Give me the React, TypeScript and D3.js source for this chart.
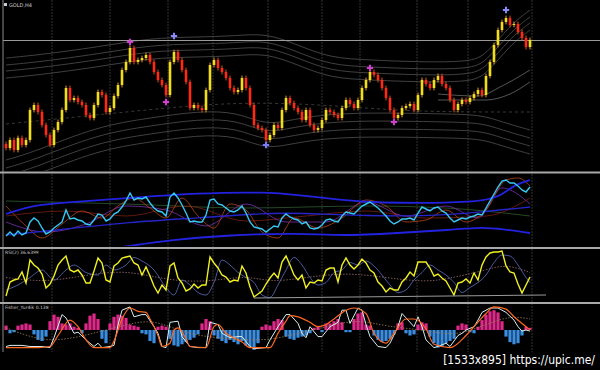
import React from 'react';
import * as d3 from 'd3';

const W = 600;
const H = 370;

// Candle closes (GOLD,H4)
const closes = [
  1202, 1206, 1201, 1207, 1203.5, 1206, 1221, 1223.5, 1220, 1213.5,
  1208.5, 1203.5, 1211, 1215, 1221, 1232, 1226, 1227, 1225, 1223.5,
  1218.5, 1217, 1223.5, 1230, 1228.5, 1220, 1222, 1228, 1233.5, 1241,
  1245, 1252, 1245, 1246, 1247, 1248.5, 1245, 1240, 1236, 1233.5,
  1228.5, 1245, 1250, 1246, 1241, 1235, 1222, 1223.5, 1222, 1221,
  1231, 1243.5, 1246, 1242, 1240, 1237, 1232, 1230, 1231, 1237,
  1232, 1223.5, 1213.5, 1212, 1211, 1206, 1208.5, 1213.5, 1212, 1221,
  1227, 1224.5, 1222, 1220, 1216, 1221, 1213.5, 1211, 1212, 1216,
  1221, 1220, 1218.5, 1217, 1222, 1226, 1224, 1222, 1226, 1232,
  1236, 1240, 1238.5, 1236, 1232, 1227, 1221, 1217, 1218.5, 1222,
  1223, 1224, 1221, 1228.5, 1236, 1234, 1232, 1236, 1238, 1234,
  1232, 1226, 1221, 1224, 1226, 1225, 1227, 1229, 1231, 1228.5,
  1238, 1245, 1253.5, 1261, 1265, 1267, 1263.5, 1264, 1260, 1257,
  1252.5, 1256,
];
const firstOpen = 1204;
const wick = 1.2;
const levelLine = 1255.75;

const upperBand: [number, number][] = [[0,1247],[8,1248.5],[23,1252.5],[36,1257],[48,1257.5],[57,1258],[65,1259.5],[73,1253.5],[81,1247],[91,1246],[103,1245],[116,1245],[120,1248.5],[126,1263.5],[131,1271]];
const upperOffsets = [0, 3.5, 6.5, 10];
const lowerBand: [number, number][] = [[0,1196],[7,1200],[23,1213],[36,1217],[48,1220.5],[58,1220],[65,1213],[73,1217],[84,1219.5],[98,1219.5],[111,1219],[119,1218.5],[124,1215],[131,1211]];
const lowerOffsets = [0, 4, 8, 12];
const dashedMid: [number, number][] = [[0,1214],[30,1220],[60,1226],[90,1222],[105,1220],[131,1220]];
const maA: [number, number][] = [[108,1229],[118,1228],[124,1233],[131,1241]];
const maB: [number, number][] = [[108,1226],[120,1226],[126,1229],[131,1235]];

const fractals = [
  { i: 31, p: 1255, c: '#d040d0' },
  { i: 40, p: 1225, c: '#d040d0' },
  { i: 42, p: 1258, c: '#8a8aff' },
  { i: 65, p: 1203.5, c: '#7a7aff' },
  { i: 91, p: 1242, c: '#d040d0' },
  { i: 97, p: 1215, c: '#d040d0' },
  { i: 125, p: 1271, c: '#8a8aff' },
];

// Panel 2: cyan oscillator and bands
const cyan = [
  10,14,10,15,11,13,24,28,25,18,
  12,14,18,21,24,36,27,28,26,25,
  22,21,26,32,31,25,27,32,34,39,
  45,53,46,48,47,49,43,38,35,34,
  30,49,53,48,41,33,24,25,24,24,
  31,46,47,42,41,38,35,34,36,40,
  33,24,19,18,17,14,17,20,19,28,
  32,29,27,26,22,24,18,17,18,21,
  26,27,25,24,30,34,33,32,36,40,
  42,44,41,38,34,30,25,22,24,27,
  27,28,26,33,39,37,35,38,39,35,
  33,28,24,26,28,27,29,30,32,31,
  38,45,52,59,65,66,63,63,60,56,
  54,59,
];
const blueUpper: [number, number][] = [[0,32],[6,40],[13,43],[31,48],[48,53],[65,54],[73,51],[84,46],[91,43],[119,43],[124,51],[127,61],[131,66]];
const blueMid: [number, number][] = [[0,11],[13,16],[31,24],[48,28],[65,33],[73,33],[91,30],[106,30],[119,34],[131,39]];
const blueLower: [number, number][] = [[20,-6],[31,0],[41,6],[56,11],[73,13],[84,10],[98,13],[111,16],[119,19],[124,17],[131,13]];
const brownLine: [number, number][] = [[0,40],[5,20],[9,8],[14,22],[19,35],[24,28],[28,40],[32,48],[36,38],[40,28],[44,48],[48,30],[52,18],[56,42],[60,36],[64,14],[68,8],[72,28],[78,18],[84,28],[90,46],[95,40],[100,24],[105,26],[110,36],[115,24],[120,36],[125,66],[128,68],[131,60]];
const purpleLine: [number, number][] = [[0,24],[10,14],[20,22],[30,40],[40,36],[50,20],[60,42],[70,24],[80,24],[90,44],[100,30],[110,40],[118,28],[124,58],[131,42]];
const darkRedLine: [number, number][] = [[0,30],[15,35],[30,30],[45,40],[60,25],[75,30],[90,35],[105,28],[120,30],[131,48]];
const greenLine: [number, number][] = [[0,45],[30,42],[60,38],[90,40],[110,38],[131,30]];

// Panel 3: RSI
const rsi = [
  8,36,40,42,56,34,80,70,64,52,
  24,32,48,70,80,88,60,56,60,50,
  34,34,58,84,74,40,36,68,74,84,
  86,88,74,70,50,66,48,28,14,30,
  20,68,74,44,34,18,22,32,24,30,
  30,86,74,64,50,46,36,40,38,68,
  54,26,6,12,18,32,44,54,44,76,
  88,70,50,40,50,24,36,34,40,38,
  60,64,64,36,70,84,70,62,70,82,
  74,60,54,36,28,16,24,20,20,36,
  44,56,48,76,76,76,64,48,52,44,
  38,24,10,34,36,42,34,54,40,70,
  86,94,96,96,98,68,56,54,32,14,
  30,46,
];
const rsiSignal: [number, number][] = [[0,20],[3,30],[6,45],[9,60],[12,40],[15,60],[17,70],[20,55],[23,50],[25,70],[27,60],[30,70],[32,85],[34,78],[37,60],[40,25],[42,10],[44,40],[46,30],[48,15],[50,10],[52,35],[54,80],[56,70],[58,55],[60,45],[62,35],[64,10],[66,5],[68,30],[70,60],[72,85],[74,70],[76,45],[78,30],[80,35],[82,55],[84,60],[86,75],[88,70],[90,78],[92,68],[94,50],[96,30],[98,15],[100,20],[102,40],[104,55],[106,70],[108,60],[110,50],[112,35],[114,15],[116,25],[118,35],[120,50],[122,75],[124,90],[126,88],[128,70],[130,45],[131,35]];
const rsiSlow: [number, number][] = [[0,45],[10,35],[20,50],[30,60],[40,40],[50,35],[60,50],[66,35],[75,45],[85,55],[95,45],[105,35],[112,45],[120,60],[125,72],[131,55]];
const rsiTrend: [number, number][] = [[62,4],[135,10]];

// Panel 4: Fisher
const fisherHist = [
  0.4,-0.3,-0.2,0.4,0.5,0.6,0.5,-0.4,-0.9,-1.0,
  -0.6,0.8,1.4,1.2,0.6,0.5,0.6,0.3,0.2,-0.3,
  0.6,1.3,1.5,1.0,-0.8,-1.2,0.6,1.2,1.4,1.3,
  1.1,0.5,0.4,0.3,-0.3,-0.4,-1.0,-1.2,0.3,0.4,
  0.3,-0.8,-1.4,-1.5,-1.3,-1.1,-0.9,-0.7,-0.4,0.6,
  1.0,0.8,-0.5,-0.8,-1.0,-1.2,-0.9,-1.1,-1.3,-1.0,
  -1.4,-1.6,-1.8,-1.2,0.3,0.5,0.4,0.8,1.0,0.9,
  -0.6,-0.8,-0.9,-0.7,-0.6,-0.5,-0.3,0.2,0.3,-0.2,
  0.6,0.6,0.8,1.0,0.7,-0.2,-0.2,1.0,1.5,1.6,
  0.5,0.4,-0.5,-0.9,-1.1,-1.0,-0.8,-0.4,0.6,0.7,
  -0.3,-0.5,-0.4,0.5,0.7,0.6,-0.6,-1.2,-1.6,-1.5,
  -1.2,-1.0,-0.8,0.4,0.6,0.5,-0.2,-0.3,0.3,0.9,
  1.4,1.7,1.8,1.6,0.8,-0.6,-1.1,-1.3,-1.2,-0.5,
  0.3,0.2,
];
const fisherWhite: [number, number][] = [[0,-1.5],[1,-1.4],[4,-1.4],[6,-1.5],[9,-1.5],[11,-1.6],[12,-0.7],[14,1.4],[15,1.1],[17,-0.3],[18,-0.2],[20,-0.9],[22,-1.5],[23,-1.2],[24,-1.6],[26,-1.5],[27,-1.4],[28,0.45],[29,1.8],[31,2.1],[32,1.2],[34,1.4],[35,1.4],[37,0.3],[38,-0.3],[39,-1.5],[40,-1.6],[41,0.7],[43,0.8],[44,-0.6],[46,-1.5],[48,-1.6],[50,-1.6],[51,0.7],[53,0.5],[54,-0.3],[56,-0.7],[58,-0.6],[59,-0.6],[61,-1.5],[62,-1.7],[65,-1.6],[66,-0.9],[68,0.3],[70,1.4],[71,1.4],[73,0.6],[74,-0.3],[75,-0.7],[76,0.3],[78,-0.6],[79,-0.6],[81,0.3],[83,0.7],[84,1.8],[85,1.8],[86,0.6],[88,2.0],[89,1.8],[90,0.5],[91,-0.6],[93,-1.5],[95,-1.6],[96,-1.2],[98,0.3],[99,1.5],[100,1.1],[102,0.3],[103,1.2],[104,0.3],[105,-0.9],[107,-1.6],[108,-1.5],[110,-1.2],[111,-1.5],[113,-0.5],[114,-0.3],[115,0.0],[117,0.3],[118,0.9],[119,1.6],[121,2.0],[123,2.0],[124,1.8],[125,1.6],[127,0.9],[128,0.3],[129,-0.1],[130,0.0],[131,-0.1]];
const fisherOrange: [number, number][] = [[0,-1.6],[8,-1.6],[11,-1.5],[13,-0.5],[16,0.9],[18,0.3],[20,-0.9],[22,-1.6],[26,-1.6],[27,-1.0],[29,1.0],[31,2.0],[33,1.7],[35,1.6],[36,1.0],[38,-0.5],[39,-1.5],[41,-1.2],[42,0.0],[43,0.2],[45,-0.8],[46,-1.5],[50,-1.6],[52,0.3],[53,0.5],[55,-0.3],[58,-0.9],[59,-1.1],[61,-1.6],[66,-1.6],[68,-0.3],[70,0.8],[71,1.3],[73,1.2],[76,0.7],[78,0.3],[80,0.5],[82,1.0],[85,1.8],[87,2.0],[90,1.5],[92,-0.3],[95,-1.2],[97,-0.3],[100,1.0],[102,1.0],[105,0.1],[107,-1.3],[111,-1.6],[115,-0.5],[117,0.3],[120,1.5],[122,2.1],[125,1.9],[127,1.2],[130,0.3],[131,0.0]];
const fisherSlow: [number, number][] = [[0,0.2],[10,-1.2],[20,-0.5],[30,0.5],[37,1.0],[45,-0.4],[55,-0.8],[65,-1.0],[72,-0.4],[80,0.3],[88,1.0],[95,0.3],[105,0.0],[112,-0.6],[120,0.5],[126,1.3],[131,1.0]];

const gridIdx = [11.5, 26, 40.5, 51.75, 65.5, 79, 88.5, 102.75, 115.5, 131.5];

const x = d3.scaleLinear().domain([0, 131]).range([6, 530]);
const yMain = d3.scaleLinear().domain([1190, 1276]).range([172, 0]);
const y2 = d3.scaleLinear().domain([0, 72]).range([246, 174]);
const y3 = d3.scaleLinear().domain([0, 100]).range([300, 250]);
const y4 = d3.scaleLinear().domain([-2, 2]).range([352, 308]);

function pathOf(pts: [number, number][], ys: d3.ScaleLinear<number, number>, curve = d3.curveMonotoneX) {
  return d3.line<[number, number]>().x(d => x(d[0])).y(d => ys(d[1])).curve(curve)(pts) || '';
}
function seriesPts(vals: number[]): [number, number][] {
  return vals.map((v, i) => [i, v]);
}

export default function App() {
  const candles = closes.map((c, i) => {
    const o = i === 0 ? firstOpen : closes[i - 1];
    return { i, o, c, h: Math.max(o, c) + wick, l: Math.min(o, c) - wick };
  });
  const cross = d3.symbol(d3.symbolCross, 22)() || '';
  return (
    <svg width={W} height={H} style={{ position: 'absolute', left: 0, top: 0, background: '#000' }}
      fontFamily="DejaVu Sans, sans-serif">
      <defs>
        <clipPath id="c1"><rect x={3} y={0} width={597} height={171} /></clipPath>
        <clipPath id="c2"><rect x={3} y={174} width={597} height={72} /></clipPath>
        <clipPath id="c3"><rect x={3} y={249} width={597} height={52} /></clipPath>
        <clipPath id="c4"><rect x={3} y={304} width={597} height={50} /></clipPath>
      </defs>
      <rect x={0} y={0} width={W} height={H} fill="#000" />
      {/* grid verticals */}
      {gridIdx.map((g, k) => (
        <line key={k} x1={x(g)} x2={x(g)} y1={0} y2={352} stroke="#333333" strokeWidth={1} strokeDasharray="2,1" />
      ))}
      {/* main panel */}
      <g clipPath="url(#c1)">
        {upperOffsets.map((off, k) => (
          <path key={'u' + k} d={pathOf(upperBand.map(([i, p]) => [i, p - off] as [number, number]), yMain, d3.curveBasis)}
            fill="none" stroke="#474747" strokeWidth={0.9} />
        ))}
        {lowerOffsets.map((off, k) => (
          <path key={'l' + k} d={pathOf(lowerBand.map(([i, p]) => [i, p - off] as [number, number]), yMain, d3.curveBasis)}
            fill="none" stroke="#474747" strokeWidth={0.9} />
        ))}
        <path d={pathOf(dashedMid, yMain, d3.curveBasis)} fill="none" stroke="#3e3e3e" strokeWidth={0.9} strokeDasharray="3,3" />
        <path d={pathOf(maA, yMain)} fill="none" stroke="#5e5e5e" strokeWidth={0.9} />
        <path d={pathOf(maB, yMain)} fill="none" stroke="#5e5e5e" strokeWidth={0.9} />
        <line x1={3} x2={W} y1={yMain(levelLine)} y2={yMain(levelLine)} stroke="#9a9a9a" strokeWidth={1} />
        {candles.map(d => {
          const up = d.c >= d.o;
          const col = up ? '#f2de12' : '#ff2a14';
          const top = yMain(Math.max(d.o, d.c));
          const bot = yMain(Math.min(d.o, d.c));
          return (
            <g key={d.i}>
              <line x1={x(d.i)} x2={x(d.i)} y1={yMain(d.h)} y2={yMain(d.l)} stroke={up ? '#e8a018' : '#e85010'} strokeWidth={1} />
              <rect x={x(d.i) - 1.3} y={top} width={2.6} height={Math.max(1, bot - top)} fill={col} />
            </g>
          );
        })}
        {fractals.map((f, k) => (
          <path key={k} d={cross} transform={`translate(${x(f.i)},${yMain(f.p)})`} fill={f.c} />
        ))}
      </g>
      <rect x={4} y={3} width={3} height={3} fill="#cccccc" />
      <text x={9} y={7} fontSize={5} fill="#d0d0d0">GOLD,H4</text>

      {/* panel 2 */}
      <g clipPath="url(#c2)">
        <path d={pathOf(greenLine, y2)} fill="none" stroke="#2e5a2e" strokeWidth={0.8} />
        <path d={pathOf(darkRedLine, y2)} fill="none" stroke="#7a2010" strokeWidth={0.8} />
        <path d={pathOf(purpleLine, y2)} fill="none" stroke="#7a2fb0" strokeWidth={0.8} />
        <path d={pathOf(brownLine, y2)} fill="none" stroke="#b5451b" strokeWidth={0.8} />
        <path d={pathOf(blueUpper, y2, d3.curveBasis)} fill="none" stroke="#2222e0" strokeWidth={1.8} />
        <path d={pathOf(blueMid, y2, d3.curveBasis)} fill="none" stroke="#2424c8" strokeWidth={1.4} />
        <path d={pathOf(blueLower, y2, d3.curveBasis)} fill="none" stroke="#2222e0" strokeWidth={1.8} />
        <path d={pathOf(seriesPts(cyan), y2, d3.curveLinear)} fill="none" stroke="#35c8f5" strokeWidth={1.4} />
      </g>

      {/* panel 3 RSI */}
      <g clipPath="url(#c3)">
        <path d={pathOf(rsiSlow, y3, d3.curveBasis)} fill="none" stroke="#a07070" strokeWidth={0.8} strokeDasharray="1.5,1.5" />
        <path d={pathOf(rsiSignal, y3)} fill="none" stroke="#5262a8" strokeWidth={0.9} />
        <path d={pathOf(seriesPts(rsi), y3, d3.curveLinear)} fill="none" stroke="#f0f020" strokeWidth={1.4} />
      </g>
      <path d={pathOf(rsiTrend, y3, d3.curveLinear)} fill="none" stroke="#9a9a9a" strokeWidth={1} />
      <text x={5} y={254} fontSize={4.5} fill="#c8c8c8">RSI(2) 36.6399</text>

      {/* panel 4 Fisher */}
      <g clipPath="url(#c4)">
        {fisherHist.map((v, i) => (
          <rect key={i} x={x(i) - 1.6} width={3.2}
            y={v >= 0 ? y4(v) : y4(0)} height={Math.abs(y4(v) - y4(0))}
            fill={v >= 0 ? '#e0288a' : '#3a8de0'} />
        ))}
        <path d={pathOf(fisherSlow, y4, d3.curveBasis)} fill="none" stroke="#a08058" strokeWidth={0.8} strokeDasharray="1.5,1.5" />
        <path d={pathOf(fisherWhite, y4, d3.curveLinear)} fill="none" stroke="#d8f0ee" strokeWidth={1} />
        <path d={pathOf(fisherOrange, y4)} fill="none" stroke="#ff6820" strokeWidth={1.2} />
      </g>
      <text x={5} y={309} fontSize={4.5} fill="#c8c8c8">Fisher_Yur4ik 0.138</text>

      {/* frame */}
      <line x1={3} x2={3} y1={0} y2={352} stroke="#8a8a8a" strokeWidth={1} />
      <rect x={0} y={171.5} width={W} height={2} fill="#a8a8a8" />
      <rect x={0} y={247} width={W} height={2} fill="#a8a8a8" />
      <rect x={0} y={302} width={W} height={2} fill="#a8a8a8" />

      <text x={595} y={364} fontSize={12} textAnchor="end" fill="#ffffff" stroke="#000" strokeWidth={2} paintOrder="stroke"
        fontFamily="DejaVu Sans Condensed, DejaVu Sans, sans-serif">[1533x895] https://upic.me/</text>
    </svg>
  );
}
